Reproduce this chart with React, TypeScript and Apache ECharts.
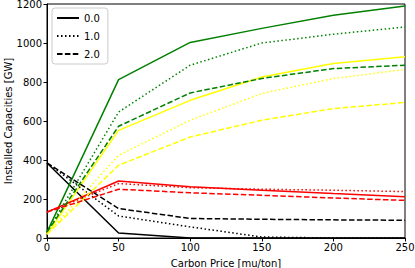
import React, { useEffect, useRef } from "react";
import * as echarts from "echarts";

const prices = [0, 50, 100, 150, 200, 250];

// solid (0.0)
const greenSolid = [30, 812, 1003, 1075, 1142, 1190];
const yellowSolid = [20, 552, 706, 826, 895, 929];
const redSolid = [133, 292, 263, 245, 228, 212];
const blackSolid = [385, 26, 0, 0, 0, 0];
// dotted (1.0)
const greenDotted = [30, 646, 886, 1000, 1045, 1082];
const yellowDotted = [20, 424, 604, 741, 818, 864];
const redDotted = [133, 279, 258, 250, 245, 238];
const blackDotted = [385, 113, 57, 5, 0, 0];
// dashed (2.0)
const greenDashed = [30, 573, 744, 818, 869, 886];
const yellowDashed = [20, 373, 518, 604, 664, 695];
const redDashed = [133, 250, 232, 219, 205, 193];
const blackDashed = [385, 151, 100, 96, 93, 91];

const legendNames = ["0.0", "1.0", "2.0"];

const FONT = "DejaVu Sans";
const DOT: number[] = [1.5, 2.5];
const DASH: number[] = [5.5, 2.4];

function mk(name: string, values: number[], color: string, type: any) {
  return {
    name,
    type: "line",
    data: prices.map((p, i) => [p, values[i]]),
    symbol: "none",
    lineStyle: { color, width: 1.5, type },
    itemStyle: { color },
    z: 2,
  };
}

export default function App() {
  const ref = useRef<HTMLDivElement>(null);
  useEffect(() => {
    const chart = echarts.init(ref.current!, null, { renderer: "svg" });
    chart.setOption({
      animation: false,
      textStyle: { fontFamily: FONT },
      grid: {
        left: 47,
        right: 10,
        top: 4,
        bottom: 30,
        show: true,
        borderColor: "#000",
        borderWidth: 1,
        containLabel: false,
        outerBoundsMode: "none",
      },
      legend: {
        data: legendNames,
        orient: "vertical",
        left: 52,
        top: 8,
        itemWidth: 22,
        itemHeight: 8,
        itemGap: 8,
        padding: [5, 8, 5, 4],
        borderColor: "#cccccc",
        borderWidth: 1,
        borderRadius: 3,
        backgroundColor: "rgba(255,255,255,0.8)",
        itemStyle: { opacity: 0 },
        textStyle: { fontFamily: FONT, fontSize: 10, color: "#000" },
        selectedMode: false,
      },
      xAxis: {
        type: "value",
        min: 0,
        max: 250,
        interval: 50,
        name: "Carbon Price [mu/ton]",
        nameLocation: "middle",
        nameGap: 20,
        nameMoveOverlap: false,
        nameTextStyle: { fontFamily: FONT, fontSize: 10, color: "#000" },
        axisLine: { show: true, lineStyle: { color: "#000", width: 1 } },
        axisTick: { show: true, length: 3.5, lineStyle: { color: "#000" } },
        axisLabel: { fontFamily: FONT, fontSize: 10, color: "#000", margin: 4, formatter: (v: number) => String(v) },
        splitLine: { show: false },
      },
      yAxis: {
        type: "value",
        min: 0,
        max: 1200,
        interval: 200,
        name: "Installed Capacities [GW]",
        nameLocation: "middle",
        nameGap: 34,
        nameMoveOverlap: false,
        nameTextStyle: { fontFamily: FONT, fontSize: 10, color: "#000" },
        axisLine: { show: true, lineStyle: { color: "#000", width: 1 } },
        axisTick: { show: true, length: 3.5, lineStyle: { color: "#000" } },
        axisLabel: { fontFamily: FONT, fontSize: 10, color: "#000", margin: 5, formatter: (v: number) => String(v) },
        splitLine: { show: false },
      },
      series: [
        mk("0.0", blackSolid, "#000000", "solid"),
        mk("green-0", greenSolid, "#008000", "solid"),
        mk("yellow-0", yellowSolid, "#ffff00", "solid"),
        mk("red-0", redSolid, "#ff0000", "solid"),
        mk("1.0", blackDotted, "#000000", DOT),
        mk("green-1", greenDotted, "#008000", DOT),
        mk("yellow-1", yellowDotted, "#ffff00", DOT),
        mk("red-1", redDotted, "#ff0000", DOT),
        mk("2.0", blackDashed, "#000000", DASH),
        mk("green-2", greenDashed, "#008000", DASH),
        mk("yellow-2", yellowDashed, "#ffff00", DASH),
        mk("red-2", redDashed, "#ff0000", DASH),
      ],
    });
    return () => chart.dispose();
  }, []);
  return <div ref={ref} style={{ width: 415, height: 268, position: "absolute", left: 0, top: 0 }} />;
}
